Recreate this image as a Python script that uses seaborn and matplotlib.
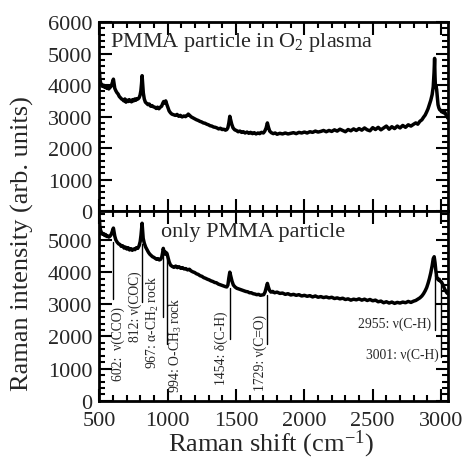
import matplotlib
matplotlib.use("Agg")
import matplotlib.pyplot as plt
from matplotlib.ticker import MultipleLocator
import seaborn as sns

# ==========================================
# 資料
# ==========================================
# O2 plasma 處理後的 PMMA 粒子
shift_plasma = [500, 503, 508, 515, 522, 530, 538, 545, 553, 560, 568, 575, 583, 590, 596, 602, 607, 612,
                620, 628, 636, 645, 653, 662, 670, 678, 686, 694, 702, 710, 718, 726, 734, 742, 750, 758,
                766, 774, 782, 790, 797, 803, 808, 812, 816, 821, 828, 836, 845, 855, 865, 875, 885, 895,
                905, 915, 925, 935, 945, 955, 963, 970, 978, 985, 992, 1000, 1010, 1020, 1030, 1042, 1055,
                1068, 1080, 1092, 1105, 1118, 1130, 1142, 1150, 1160, 1172, 1185, 1198, 1210, 1222, 1235,
                1248, 1260, 1272, 1285, 1298, 1310, 1322, 1335, 1348, 1360, 1372, 1385, 1398, 1410, 1422,
                1432, 1440, 1447, 1454, 1460, 1468, 1478, 1490, 1502, 1515, 1528, 1540, 1553, 1566, 1580,
                1593, 1606, 1620, 1633, 1646, 1660, 1673, 1686, 1700, 1710, 1720, 1729, 1737, 1746, 1758,
                1772, 1786, 1800, 1820, 1840, 1860, 1880, 1900, 1920, 1940, 1960, 1980, 2000, 2020, 2040,
                2060, 2080, 2100, 2120, 2140, 2160, 2180, 2200, 2220, 2240, 2260, 2280, 2300, 2320, 2340,
                2360, 2380, 2400, 2420, 2440, 2460, 2480, 2500, 2520, 2540, 2560, 2580, 2600, 2620, 2640,
                2660, 2680, 2700, 2720, 2740, 2760, 2780, 2800, 2815, 2830, 2845, 2860, 2872, 2884, 2895,
                2905, 2915, 2925, 2935, 2943, 2949, 2953, 2956, 2959, 2963, 2968, 2973, 2978, 2984, 2990,
                2997, 3005, 3012, 3020, 3028, 3036, 3043, 3050]
int_plasma = [4450, 4200, 4080, 4010, 3960, 4000, 3930, 3960, 3900, 3940, 3880, 3920, 3950, 4020, 4100, 4190, 4050, 3900,
              3820, 3760, 3720, 3640, 3600, 3560, 3540, 3500, 3560, 3460, 3520, 3480, 3540, 3500, 3470, 3540, 3500, 3560,
              3520, 3570, 3560, 3600, 3680, 3820, 4050, 4300, 4050, 3750, 3560, 3460, 3420, 3380, 3400, 3330, 3350, 3310,
              3300, 3260, 3300, 3250, 3300, 3330, 3420, 3480, 3430, 3500, 3400, 3300, 3180, 3120, 3080, 3060, 3040,
              3070, 3010, 3040, 2990, 3020, 3000, 3040, 3080, 3040, 2990, 2960, 2930, 2900, 2880, 2850,
              2830, 2800, 2790, 2760, 2740, 2710, 2700, 2670, 2660, 2640, 2610, 2630, 2590, 2600, 2570,
              2590, 2650, 2800, 3010, 2900, 2760, 2640, 2580, 2560, 2520, 2540, 2500, 2520, 2480, 2510,
              2470, 2500, 2460, 2490, 2450, 2480, 2460, 2500, 2480, 2540, 2640, 2800, 2660, 2540, 2490,
              2460, 2480, 2440, 2470, 2450, 2480, 2450, 2470, 2490, 2460, 2500, 2480, 2510, 2480, 2520,
              2500, 2540, 2510, 2530, 2560, 2520, 2560, 2530, 2580, 2540, 2600, 2560, 2520, 2590, 2550,
              2610, 2560, 2620, 2570, 2640, 2580, 2550, 2650, 2590, 2660, 2580, 2640, 2700, 2600, 2680,
              2620, 2700, 2640, 2720, 2660, 2740, 2700, 2760, 2800, 2760, 2850, 2900, 2980, 3050, 3150,
              3250, 3380, 3520, 3700, 3950, 4400, 4850, 4300, 3950, 3980, 3860, 3600, 3380, 3280, 3220,
              3200, 3150, 3180, 3120, 3140, 3060, 3010, 2950]

# 未處理的 PMMA 粒子
shift_pmma = [500, 503, 508, 515, 522, 530, 538, 545, 553, 560, 568, 575, 583, 590, 596, 602, 607, 612,
              620, 630, 640, 650, 660, 670, 680, 690, 700, 710, 720, 730, 740, 750, 760, 770, 780, 790,
              798, 804, 809, 812, 815, 820, 828, 838, 848, 858, 868, 878, 888, 898, 908, 918, 928, 938,
              948, 956, 962, 967, 972, 978, 985, 994, 1002, 1010, 1020, 1032, 1045, 1058, 1070, 1082,
              1095, 1108, 1120, 1132, 1145, 1158, 1170, 1183, 1196, 1210, 1223, 1236, 1250, 1263, 1276,
              1290, 1303, 1316, 1330, 1343, 1356, 1370, 1383, 1396, 1410, 1422, 1432, 1440, 1447, 1454,
              1461, 1470, 1480, 1492, 1505, 1518, 1531, 1545, 1558, 1571, 1585, 1598, 1611, 1625, 1638,
              1651, 1665, 1678, 1690, 1702, 1712, 1721, 1729, 1736, 1744, 1755, 1768, 1782, 1800, 1820,
              1840, 1860, 1880, 1900, 1920, 1940, 1960, 1980, 2000, 2020, 2040, 2060, 2080, 2100, 2120,
              2140, 2160, 2180, 2200, 2220, 2240, 2260, 2280, 2300, 2320, 2340, 2360, 2380, 2400, 2420,
              2440, 2460, 2480, 2500, 2520, 2540, 2560, 2580, 2600, 2620, 2640, 2660, 2680, 2700, 2720,
              2740, 2760, 2780, 2800, 2815, 2830, 2845, 2860, 2872, 2884, 2895, 2905, 2915, 2925, 2935,
              2943, 2950, 2956, 2962, 2968, 2974, 2980, 2987, 2994, 3002, 3010, 3018, 3026, 3034, 3042,
              3050]
int_pmma = [5650, 5420, 5300, 5230, 5180, 5200, 5140, 5170, 5110, 5130, 5090, 5110, 5150, 5220, 5300, 5370, 5250, 5120,
            5000, 4930, 4880, 4860, 4800, 4820, 4750, 4780, 4720, 4760, 4690, 4730, 4680, 4720, 4700, 4760, 4740, 4820,
            4950, 5150, 5380, 5520, 5350, 5050, 4900, 4780, 4700, 4620, 4560, 4520, 4480, 4460, 4430, 4400, 4420, 4380,
            4400, 4470, 4600, 4740, 4650, 4560, 4620, 4580, 4450, 4320, 4220, 4180, 4150, 4190, 4140, 4170,
            4120, 4140, 4100, 4110, 4070, 4090, 4040, 4010, 3990, 3950, 3930, 3890, 3870, 3830, 3810,
            3780, 3760, 3730, 3710, 3680, 3670, 3630, 3610, 3590, 3570, 3550, 3540, 3600, 3820, 4000,
            3880, 3720, 3600, 3540, 3500, 3480, 3460, 3440, 3420, 3400, 3390, 3360, 3360, 3330, 3320,
            3300, 3310, 3280, 3290, 3300, 3380, 3520, 3650, 3540, 3440, 3380, 3400, 3360, 3380, 3340,
            3350, 3310, 3330, 3290, 3310, 3280, 3300, 3260, 3280, 3250, 3270, 3230, 3260, 3220, 3240,
            3210, 3230, 3200, 3220, 3180, 3200, 3170, 3190, 3150, 3170, 3130, 3160, 3140, 3170, 3130,
            3160, 3120, 3150, 3110, 3130, 3080, 3100, 3050, 3080, 3040, 3070, 3030, 3060, 3040, 3070,
            3050, 3090, 3060, 3100, 3120, 3160, 3200, 3260, 3330, 3420, 3520, 3650, 3800, 3980, 4200,
            4420, 4480, 4300, 4050, 3860, 3800, 3760, 3780, 3720, 3700, 3640, 3560, 3480, 3420, 3360,
            3330]

# 譜峰標註
peak_shift = [602, 812, 967, 994, 1454, 1729, 2955, 3001]
peak_label = ["602:  ν(CCO)", "812: ν(COC)", r"967: α-CH$_2$ rock", r"994: O-CH$_3$ rock",
              "1454: δ(C-H)", "1729: ν(C=O)", "2955: ν(C-H)", "3001: ν(C-H)"]
line_top = [4950, 4880, 4560, 4480, 3520, 3290, 3900, 3700]
line_bottom = [3180, 3080, 2600, 1770, 1930, 1770, 2190, 1370]

# ==========================================
# 樣式
# ==========================================
sns.set_style("ticks")
plt.rcParams['font.family'] = ['Liberation Serif', 'DejaVu Serif']
plt.rcParams['mathtext.fontset'] = 'custom'
plt.rcParams['mathtext.rm'] = 'Liberation Serif'
plt.rcParams['mathtext.it'] = 'Liberation Serif:italic'


def style_axis(ax, ymax):
    ax.set_xlim(500, 3050)
    ax.set_ylim(0, ymax)
    ax.xaxis.set_major_locator(MultipleLocator(500))
    ax.xaxis.set_minor_locator(MultipleLocator(100))
    ax.yaxis.set_major_locator(MultipleLocator(1000))
    ax.yaxis.set_minor_locator(MultipleLocator(200))
    ax.tick_params(which='both', direction='in', top=True, right=True,
                   width=1.5, labelsize=16, color='black')
    ax.tick_params(which='major', length=9)
    ax.tick_params(which='minor', length=4.5)
    ax.tick_params(axis='y', pad=5)
    ax.tick_params(axis='x', pad=7)
    for sp in ax.spines.values():
        sp.set_linewidth(2)
        sp.set_color('black')
    ax.set_xlabel('')
    ax.set_ylabel('')


fig = plt.figure(figsize=(4.67, 4.64), dpi=100)
ax_top = fig.add_axes([0.213, 0.543, 0.746, 0.407])
ax_bot = fig.add_axes([0.213, 0.134, 0.746, 0.409], sharex=ax_top)

sns.lineplot(x=shift_plasma, y=int_plasma, ax=ax_top, color='black', linewidth=2.5,
             estimator=None, sort=False)
sns.lineplot(x=shift_pmma, y=int_pmma, ax=ax_bot, color='black', linewidth=2.5,
             estimator=None, sort=False)

style_axis(ax_top, 6000)
style_axis(ax_bot, 5900)
ax_top.tick_params(labelbottom=False)

ax_top.text(575, 5380, r"PMMA particle in O$_2$ plasma", fontsize=16, va='center', ha='left')
ax_bot.text(950, 5250, "only PMMA particle", fontsize=16, va='center', ha='left')

# 標註線與文字
label_pos = [(590, 2950, 'left', 'top', 90), (808, 4060, 'right', 'top', 90),
             (951, 3900, 'right', 'top', 90), (1000, 3240, 'left', 'top', 90),
             (1441, 2810, 'right', 'top', 90), (1728, 2710, 'right', 'top', 90),
             (2927, 2420, 'right', 'center', 0), (2987, 1460, 'right', 'center', 0)]
for s, lab, y0, y1, (tx, ty, ha, va, rot) in zip(peak_shift, peak_label, line_top, line_bottom, label_pos):
    ax_bot.plot([s, s], [y0, y1], color='black', linewidth=1)
    ax_bot.text(tx, ty, lab, fontsize=9.8, ha=ha, va=va, rotation=rot, rotation_mode='default')

fig.text(22 / 467, 1 - 244 / 464, "Raman intensity (arb. units)", rotation=90,
         fontsize=19, ha='center', va='center')
fig.text(271 / 467, 1 - 444 / 464, r"Raman shift (cm$^{\mathregular{-1}}$)",
         fontsize=19, ha='center', va='center')

fig.savefig('out.png', dpi=100)
